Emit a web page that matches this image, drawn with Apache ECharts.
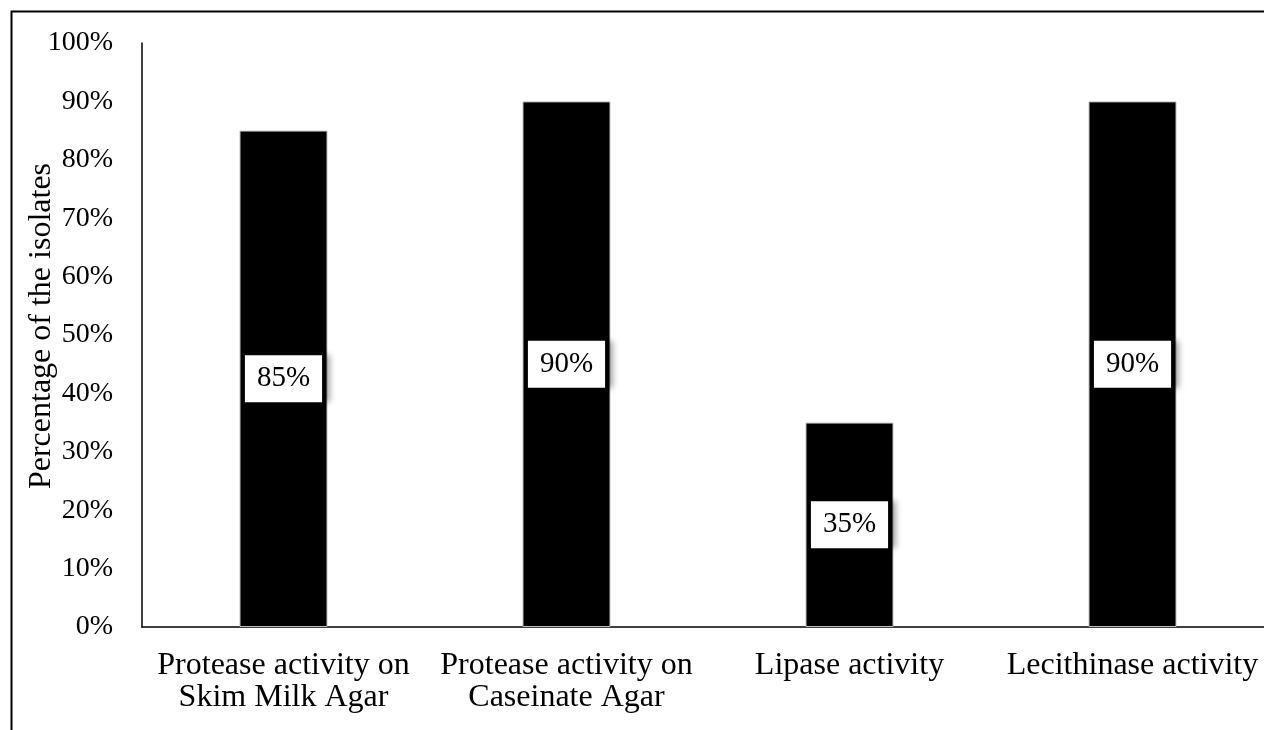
<!DOCTYPE html>
<html>
<head>
<meta charset="utf-8">
<script src="https://cdn.jsdelivr.net/npm/echarts@6/dist/echarts.min.js"></script>
<style>
html,body{margin:0;padding:0;background:#fff;overflow:hidden;}
#chart{width:1264px;height:730px;}
</style>
</head>
<body>
<div id="chart"></div>
<script>
const categories = [
  "Protease activity on\nSkim Milk Agar",
  "Protease activity on\nCaseinate Agar",
  "Lipase activity",
  "Lecithinase activity"
];
const values = [85, 90, 35, 90];
const yAxisTitle = "Percentage of the isolates";

const FONT = "'Liberation Serif', 'Times New Roman', serif";
const chart = echarts.init(document.getElementById('chart'), null, {renderer: 'canvas'});
chart.setOption({
  backgroundColor: '#ffffff',
  animation: false,
  graphic: [{
    type: 'rect',
    left: 9, top: 9,
    shape: {x: 0, y: 0, width: 1400, height: 900},
    style: {fill: 'none', stroke: '#000', lineWidth: 2},
    silent: true,
    z: -10
  }],
  grid: {left: 142, top: 43, right: -10, bottom: 103, containLabel: false, outerBoundsMode: 'none'},
  xAxis: {
    type: 'category',
    data: categories,
    axisLine: {show: true, lineStyle: {color: '#000', width: 1.5}},
    axisTick: {show: false},
    axisLabel: {
      color: '#000', fontFamily: FONT, fontSize: 32, lineHeight: 32, margin: 23,
      interval: 0
    }
  },
  yAxis: {
    type: 'value',
    min: 0, max: 100, interval: 10,
    name: yAxisTitle,
    nameLocation: 'middle',
    nameGap: 84,
    nameMoveOverlap: false,
    nameRotate: 90,
    nameTextStyle: {color: '#000', fontFamily: FONT, fontSize: 32, padding: [0, 0, 0, 18]},
    axisLine: {show: true, lineStyle: {color: '#000', width: 1.5}},
    axisTick: {show: false},
    splitLine: {show: false},
    axisLabel: {
      color: '#000', fontFamily: FONT, fontSize: 28, margin: 29,
      formatter: '{value}%'
    }
  },
  series: [{
    type: 'bar',
    data: values,
    barWidth: 88,
    itemStyle: {color: '#000', borderColor: '#bfbfbf', borderWidth: 1},
    label: {
      show: true,
      position: 'inside',
      formatter: '{c}%',
      color: '#000',
      fontFamily: FONT,
      fontSize: 29,
      lineHeight: 35,
      backgroundColor: '#fff',
      padding: [6, 12],
      shadowColor: 'rgba(0,0,0,0.35)',
      shadowBlur: 6,
      shadowOffsetX: 8,
      shadowOffsetY: 0
    }
  }]
});
</script>
</body>
</html>
